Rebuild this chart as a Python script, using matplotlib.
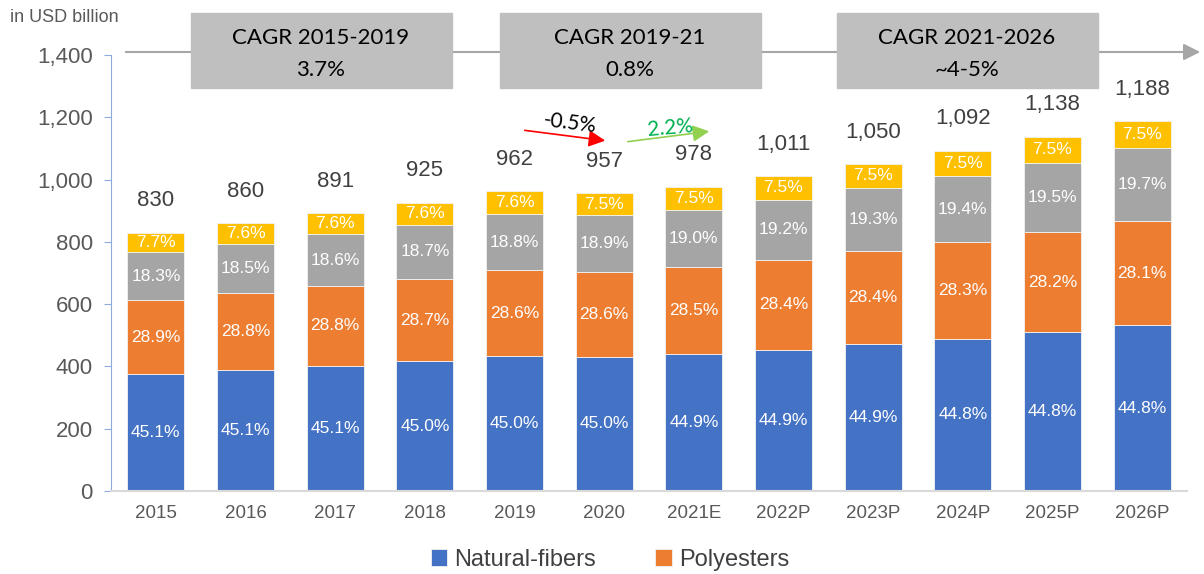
import numpy as np
import matplotlib.pyplot as plt
from matplotlib.patches import FancyArrowPatch, Rectangle

years = ['2015', '2016', '2017', '2018', '2019', '2020', '2021E',
         '2022P', '2023P', '2024P', '2025P', '2026P']
totals = [830, 860, 891, 925, 962, 957, 978, 1011, 1050, 1092, 1138, 1188]
natural_pct = [45.1, 45.1, 45.1, 45.0, 45.0, 45.0, 44.9, 44.9, 44.9, 44.8, 44.8, 44.8]
poly_pct = [28.9, 28.8, 28.8, 28.7, 28.6, 28.6, 28.5, 28.4, 28.4, 28.3, 28.2, 28.1]
other_pct = [18.3, 18.5, 18.6, 18.7, 18.8, 18.9, 19.0, 19.2, 19.3, 19.4, 19.5, 19.7]
rest_pct = [7.7, 7.6, 7.6, 7.6, 7.6, 7.5, 7.5, 7.5, 7.5, 7.5, 7.5, 7.5]
cagr_titles = ['CAGR 2015-2019', 'CAGR 2019-21', 'CAGR 2021-2026']
cagr_values = ['3.7%', '0.8%', '~4-5%']

plt.rcParams['font.family'] = ['Liberation Sans', 'DejaVu Sans']

W, H = 1204, 574
fig = plt.figure(figsize=(W / 100, H / 100), dpi=100)
ax = fig.add_axes([111 / W, (H - 491) / H, 1076 / W, 436 / H])

x = np.arange(len(years))
tot = np.array(totals, dtype=float)
segs = [np.array(p) for p in (natural_pct, poly_pct, other_pct, rest_pct)]
colors = ['#4472C4', '#ED7D31', '#A5A5A5', '#FFC000']
names = ['Natural-fibers', 'Polyesters', 'Others', 'Rest']

bottom = np.zeros(len(years))
bars = []
for pct, c, n in zip(segs, colors, names):
    h = tot * pct / 100
    b = ax.bar(x, h, bottom=bottom, width=0.635, color=c, label=n,
               edgecolor='#F2F2F2', linewidth=0.6)
    bars.append(b)
    for xi, bi, hi, pi in zip(x, bottom, h, pct):
        ax.text(xi, bi + hi / 2, f'{pi:.1f}%', ha='center', va='center',
                color='white', fontsize=12.5)
    bottom = bottom + h

for xi, t in zip(x, totals):
    ax.annotate(f'{t:,}', (xi, t), xytext=(0, 23), textcoords='offset points',
                ha='center', va='center', fontsize=16, color='#404040')

ax.set_xlim(-0.5, 11.5)
ax.set_ylim(0, 1400)
ax.set_yticks(range(0, 1401, 200))
ax.yaxis.set_major_formatter(plt.FuncFormatter(lambda v, p: f'{int(v):,}'))
ax.tick_params(axis='y', labelsize=16, labelcolor='#595959', color='#8FAADC',
               length=5, pad=8)
ax.tick_params(axis='x', labelsize=13.5, labelcolor='#595959', length=0, pad=10)
ax.set_xticks(x)
ax.set_xticklabels(years)
for s in ['top', 'right']:
    ax.spines[s].set_visible(False)
ax.spines['left'].set_color('#8FAADC')
ax.spines['bottom'].set_color('#D9D9D9')
ax.spines['bottom'].set_linewidth(1.5)

fig.text(10 / W, 1 - 18 / H, 'in USD billion', fontsize=13, color='#595959',
         va='center', ha='left')

# timeline line with arrow
fig.patches.append(FancyArrowPatch((123 / W, 1 - 52 / H), (1203 / W, 1 - 52 / H),
                                   transform=fig.transFigure, arrowstyle='-|>',
                                   mutation_scale=25, color='#A6A6A6', lw=1.5))
box_x = [191, 500, 837]
for bx, t, v in zip(box_x, cagr_titles, cagr_values):
    fig.patches.append(Rectangle((bx / W, 1 - 88 / H), 261 / W, 75 / H,
                                 transform=fig.transFigure, color='#BFBFBF', zorder=3))
    fig.text((bx + 130) / W, 1 - 38 / H, t, ha='center', va='center',
             fontsize=16, family=['Lato', 'DejaVu Sans'], zorder=4)
    fig.text((bx + 130) / W, 1 - 70 / H, v, ha='center', va='center',
             fontsize=16, family=['Lato', 'DejaVu Sans'], zorder=4)

fig.patches.append(FancyArrowPatch((522 / W, 1 - 130 / H), (608 / W, 1 - 141 / H),
                                   transform=fig.transFigure, arrowstyle='-|>',
                                   mutation_scale=25, color='#FF0000', lw=1.2))
fig.text(570 / W, 1 - 123 / H, '-0.5%', ha='center', va='center', fontsize=15,
         rotation=-7, family=['Lato', 'DejaVu Sans'])
fig.patches.append(FancyArrowPatch((625 / W, 1 - 142 / H), (712 / W, 1 - 131 / H),
                                   transform=fig.transFigure, arrowstyle='-|>',
                                   mutation_scale=25, color='#92D050', lw=1.2))
fig.text(670 / W, 1 - 128 / H, '2.2%', ha='center', va='center', fontsize=15,
         rotation=5, color='#00B050', family=['Lato', 'DejaVu Sans'])

fig.legend(handles=bars[:2], labels=names[:2], loc='center',
           bbox_to_anchor=(610 / W, 1 - 560 / H), ncol=2, frameon=False,
           fontsize=17, handlelength=0.7, handleheight=0.7, handletextpad=0.3,
           columnspacing=2.5, labelcolor='#404040')

fig.savefig('out.png', dpi=100)
